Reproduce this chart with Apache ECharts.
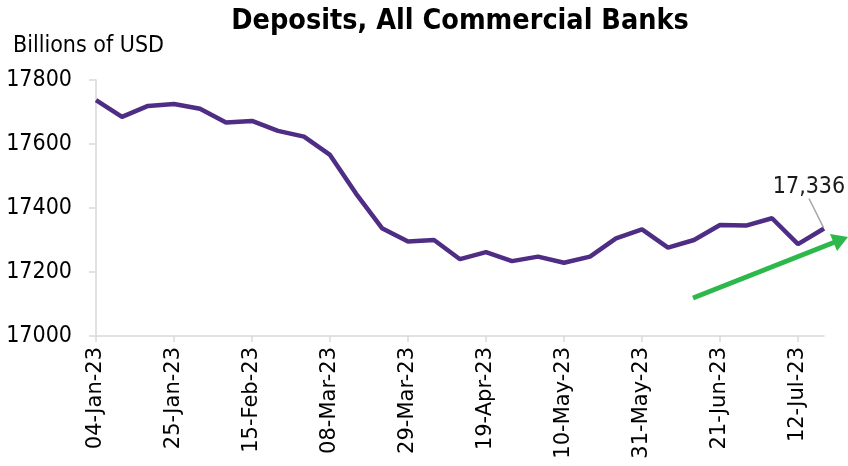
<!DOCTYPE html>
<html><head><meta charset="utf-8">
<script src="https://cdn.jsdelivr.net/npm/echarts@6/dist/echarts.min.js"></script>
<style>html,body{margin:0;padding:0;background:#fff}#c{width:848px;height:466px}</style>
</head><body><div id="c"></div>
<script>
const categories = ['04-Jan-23','11-Jan-23','18-Jan-23','25-Jan-23','01-Feb-23','08-Feb-23','15-Feb-23','22-Feb-23','01-Mar-23','08-Mar-23','15-Mar-23','22-Mar-23','29-Mar-23','05-Apr-23','12-Apr-23','19-Apr-23','26-Apr-23','03-May-23','10-May-23','17-May-23','24-May-23','31-May-23','07-Jun-23','14-Jun-23','21-Jun-23','28-Jun-23','05-Jul-23','12-Jul-23','19-Jul-23'];
const deposits = [17737,17685,17719,17725,17710,17667,17672,17641,17623,17566,17445,17337,17295,17300,17240,17262,17234,17248,17229,17248,17305,17333,17276,17300,17347,17345,17368,17287,17336];
const yTicks = [17000,17200,17400,17600,17800];

const chart = echarts.init(document.getElementById('c'));
const last = deposits.length - 1;
const data = deposits.map((v,i)=> i===last ? {value:v, symbolSize:2, label:{show:true, formatter:(p)=>p.value.toLocaleString('en-US'), position:'top', fontFamily:'DejaVu Sans Condensed', fontSize:23, color:'#1a1a1a'}, labelLine:{show:true, lineStyle:{color:'#a6a6a6', width:1.5}}} : v);
chart.setOption({
  animation:false,
  title:[
    {text:'Deposits, All Commercial Banks', left:455, textAlign:'center', top:2, textStyle:{fontFamily:'DejaVu Sans Condensed', fontWeight:'bold', fontSize:28.5, color:'#000'}},
    {text:'Billions of USD', left:8, top:30, textStyle:{fontFamily:'DejaVu Sans Condensed', fontWeight:'normal', fontSize:23, color:'#000'}}
  ],
  grid:{left:96, right:24, top:80, bottom:130},
  xAxis:{type:'category', data:categories, boundaryGap:false,
    axisLine:{lineStyle:{color:'#d9d9d9', width:1.5}},
    axisTick:{interval:2, length:6, lineStyle:{color:'#d9d9d9', width:1.5}},
    axisLabel:{interval:2, rotate:90, margin:11, fontFamily:'DejaVu Sans', fontSize:21, color:'#000'}},
  yAxis:{type:'value', min:yTicks[0], max:yTicks[yTicks.length-1], interval:200,
    axisLine:{show:true, lineStyle:{color:'#d9d9d9', width:1.5}},
    axisTick:{show:true, length:7, lineStyle:{color:'#d9d9d9', width:1.5}},
    splitLine:{show:false},
    axisLabel:{margin:24, formatter:(v)=>String(v), fontFamily:'DejaVu Sans Condensed', fontSize:23, color:'#000'}},
  series:[{type:'line', data:data, showSymbol:true, symbol:'circle', symbolSize:0,
    itemStyle:{color:'rgba(79,45,132,0)'},
    lineStyle:{color:'#4F2D84', width:4.5},
    labelLayout:{dx:-15, dy:-24},
    labelLine:{show:true}
  }],
  graphic:[
    {type:'line', shape:{x1:693, y1:298, x2:835, y2:242}, style:{stroke:'#2DB84B', lineWidth:5}},
    {type:'polygon', shape:{points:[[848,237],[830,234],[837,251]]}, style:{fill:'#2DB84B'}}
  ]
});
</script></body></html>
